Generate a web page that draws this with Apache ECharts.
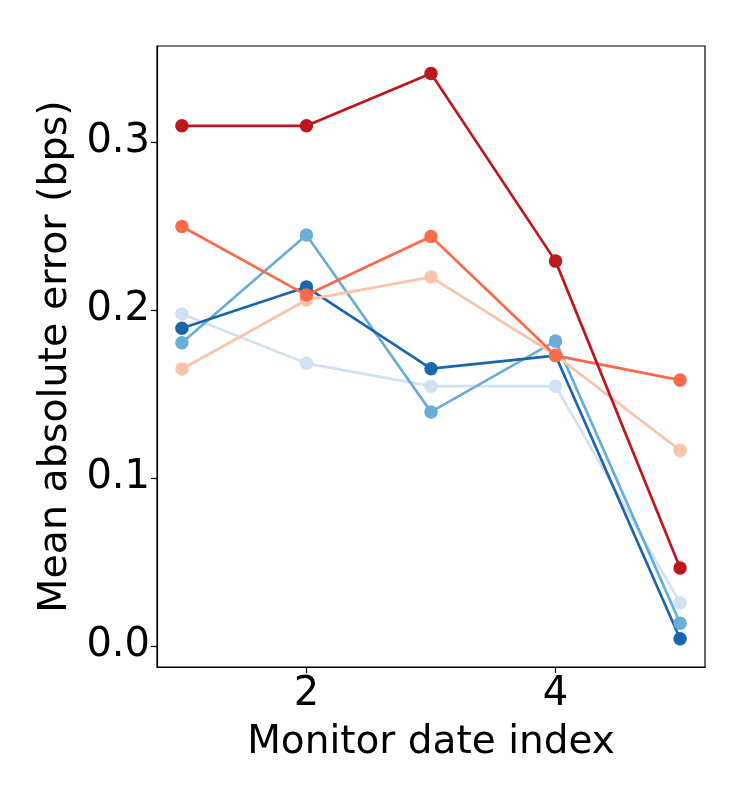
<!DOCTYPE html>
<html>
<head>
<meta charset="utf-8">
<script src="https://cdn.jsdelivr.net/npm/echarts@6/dist/echarts.min.js"></script>
<style>html,body{margin:0;padding:0;background:#fff}#c{width:750px;height:800px}</style>
</head>
<body>
<div id="c"></div>
<script>
const xIndex = [1, 2, 3, 4, 5];
const xTicks = [2, 4];
const yTicks = [0, 0.1, 0.2, 0.3];
const seriesDarkRed = [0.3095, 0.3095, 0.3406, 0.2290, 0.0464];
const seriesOrange = [0.2496, 0.2088, 0.2436, 0.1728, 0.1582];
const seriesPeach = [0.1648, 0.2059, 0.2195, 0.1730, 0.1164];
const seriesLightBlue = [0.1976, 0.1682, 0.1546, 0.1546, 0.0257];
const seriesMidBlue = [0.1804, 0.2446, 0.1393, 0.1814, 0.0136];
const seriesDarkBlue = [0.1891, 0.2136, 0.1650, 0.1728, 0.0043];

const seriesList = [
  { name: 'lightblue', data: seriesLightBlue, color: '#d0e1f2' },
  { name: 'midblue', data: seriesMidBlue, color: '#6aaed6' },
  { name: 'darkblue', data: seriesDarkBlue, color: '#1a66ad' },
  { name: 'peach', data: seriesPeach, color: '#fcc3ab' },
  { name: 'orange', data: seriesOrange, color: '#fb6a4a' },
  { name: 'darkred', data: seriesDarkRed, color: '#bd161d' }
];

const chart = echarts.init(document.getElementById('c'), null, { renderer: 'canvas' });
const font = 'DejaVu Sans';
chart.setOption({
  animation: false,
  backgroundColor: '#fff',
  grid: { left: 157, right: 45, top: 46, bottom: 133, show: true, borderColor: '#000', borderWidth: 1.2, backgroundColor: 'transparent' },
  xAxis: {
    type: 'value', min: 0.8, max: 5.2,
    name: 'Monitor date index', nameLocation: 'middle', nameGap: 56,
    nameTextStyle: { fontFamily: font, fontSize: 39, color: '#000' },
    axisLine: { show: true, onZero: false, lineStyle: { color: '#000', width: 1.2 } },
    axisTick: { show: true, length: 6, lineStyle: { color: '#000', width: 1.2 }, customValues: xTicks },
    axisLabel: { customValues: xTicks, fontFamily: font, fontSize: 40, color: '#000', margin: 8 },
    splitLine: { show: false }
  },
  yAxis: {
    type: 'value', min: -0.0125, max: 0.357,
    name: 'Mean absolute error (bps)', nameLocation: 'middle', nameGap: 63, nameRotate: 90,
    nameTextStyle: { fontFamily: font, fontSize: 39.5, color: '#000' },
    axisLine: { show: true, onZero: false, lineStyle: { color: '#000', width: 1.2 } },
    axisTick: { show: true, length: 6, lineStyle: { color: '#000', width: 1.2 }, customValues: yTicks },
    axisLabel: { customValues: yTicks, fontFamily: font, fontSize: 40, color: '#000', margin: 7,
      formatter: v => v.toFixed(1) },
    splitLine: { show: false }
  },
  series: seriesList.map(s => ({
    type: 'line', name: s.name,
    data: xIndex.map((x, i) => [x, s.data[i]]),
    symbol: 'circle', symbolSize: 13.5,
    lineStyle: { color: s.color, width: 2.7 },
    itemStyle: { color: s.color },
    emphasis: { disabled: true }
  }))
});
</script>
</body>
</html>
